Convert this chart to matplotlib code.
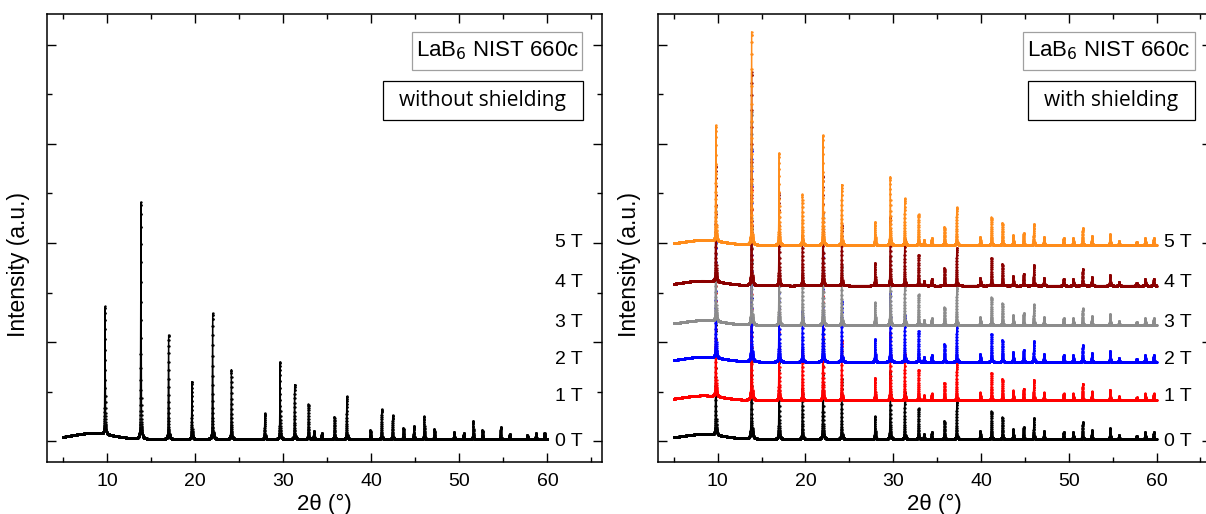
import numpy as np
import matplotlib.pyplot as plt
from matplotlib.patches import Rectangle
from matplotlib.ticker import MultipleLocator

plt.rcParams['font.family'] = ['Liberation Sans', 'DejaVu Sans']

# LaB6 reflections (2theta, deg) and peak heights
peak_pos = [9.79, 13.86, 17.00, 19.65, 22.00, 24.13, 27.93, 29.66, 31.31, 32.88,
            33.50, 34.38, 35.83, 37.23, 39.91, 41.19, 42.44, 43.66, 44.85, 46.02,
            47.17, 49.41, 50.50, 51.58, 52.63, 54.70, 55.72, 57.72, 58.70, 59.67]
amp_without = [1.29, 2.39, 1.05, 0.58, 1.27, 0.70, 0.26, 0.78, 0.55, 0.35,
               0.08, 0.06, 0.22, 0.43, 0.09, 0.30, 0.24, 0.11, 0.13, 0.23,
               0.10, 0.07, 0.06, 0.18, 0.09, 0.12, 0.05, 0.04, 0.06, 0.06]
amp_with = [1.17, 2.15, 0.93, 0.51, 1.11, 0.61, 0.23, 0.69, 0.47, 0.31,
            0.05, 0.07, 0.18, 0.38, 0.08, 0.28, 0.22, 0.10, 0.12, 0.21,
            0.08, 0.07, 0.07, 0.17, 0.09, 0.11, 0.04, 0.03, 0.07, 0.07]

# amorphous hump of the background: centre, height, width
hump_without = [8.3, 0.06, 2.3]
hump_with = [8.3, 0.05, 2.3]
base_level = 0.02

field_labels = ['0 T', '1 T', '2 T', '3 T', '4 T', '5 T']
label_y = [0.0, 0.45, 0.82, 1.20, 1.60, 2.00]
offsets_with = [0.0, 0.39, 0.78, 1.15, 1.55, 1.96]
colors_with = ['black', '#ff0000', '#0000ff', '#8c8c8c', '#8b0000', '#ff8c1a']

two_theta = np.arange(5.0, 60.0001, 0.005)


def pattern(x, pos, amp, hump, fwhm=0.08, eta=0.4):
    """Pseudo-Voigt peaks on a small background."""
    y = base_level + hump[1] * np.exp(-(x - hump[0]) ** 2 / (2 * hump[2] ** 2))
    for p, a in zip(pos, amp):
        d = (x - p) / fwhm
        g = np.exp(-4 * np.log(2) * d ** 2)
        lo = 1 / (1 + 4 * d ** 2)
        y = y + a * (eta * lo + (1 - eta) * g)
    return y


def style_axes(ax):
    ax.set_xlim(3.2, 66.2)
    ax.set_ylim(-0.212, 4.313)
    ax.xaxis.set_major_locator(MultipleLocator(10))
    ax.xaxis.set_minor_locator(MultipleLocator(5))
    ax.yaxis.set_major_locator(MultipleLocator(1))
    ax.yaxis.set_minor_locator(MultipleLocator(0.5))
    ax.tick_params(which='both', direction='in', top=True, right=True,
                   labelleft=False, width=1.0)
    ax.tick_params(which='major', length=6.5, labelsize=14, pad=8)
    ax.tick_params(which='minor', length=3.6)
    for s in ax.spines.values():
        s.set_linewidth(1.1)
    ax.set_xlabel('2θ (°)', fontsize=16, labelpad=3)
    ax.set_ylabel('Intensity (a.u.)', fontsize=16.5)
    ax.yaxis.set_label_coords(-0.031, 0.44)
    for lab, yy in zip(field_labels, label_y):
        ax.text(60.9, yy, lab, fontsize=14, va='center', ha='left')


def add_boxes(ax, box1, box2, caption):
    r1 = Rectangle((box1[0], box1[1]), box1[2] - box1[0], box1[3] - box1[1],
                   transform=ax.transAxes, fill=False, edgecolor='#a0a0a0', lw=0.9)
    r2 = Rectangle((box2[0], box2[1]), box2[2] - box2[0], box2[3] - box2[1],
                   transform=ax.transAxes, fill=False, edgecolor='black', lw=0.9)
    ax.add_patch(r1)
    ax.add_patch(r2)
    ax.text((box1[0] + box1[2]) / 2, (box1[1] + box1[3]) / 2, 'LaB$_6$ NIST 660c',
            transform=ax.transAxes, ha='center', va='center', fontsize=16)
    ax.text((box2[0] + box2[2]) / 2, (box2[1] + box2[3]) / 2, caption,
            transform=ax.transAxes, ha='center', va='center', fontsize=15,
            family=['Open Sans', 'DejaVu Sans'])


fig = plt.figure(figsize=(12.06, 5.14), dpi=100)
ax1 = fig.add_axes([47 / 1206, 52 / 514, 555 / 1206, 448 / 514])
ax2 = fig.add_axes([658 / 1206, 52 / 514, 553 / 1206, 448 / 514])

# without shielding: only the 0 T pattern
y0 = pattern(two_theta, peak_pos, amp_without, hump_without)
ax1.plot(two_theta, y0, color='black', lw=0.9, marker='o', ms=1.7, mew=0)
style_axes(ax1)
add_boxes(ax1, [0.658, 0.875, 0.964, 0.960], [0.605, 0.763, 0.965, 0.850],
          'without shielding')

# with shielding: stacked patterns 0 T ... 5 T
for off, col in zip(offsets_with, colors_with):
    yy = pattern(two_theta, peak_pos, amp_with, hump_with) + off
    ax2.plot(two_theta, yy, color=col, lw=0.9, marker='o', ms=1.7, mew=0)
style_axes(ax2)
add_boxes(ax2, [0.660, 0.875, 0.971, 0.960], [0.669, 0.763, 0.971, 0.850],
          'with shielding')

fig.savefig('out.png', dpi=100)
